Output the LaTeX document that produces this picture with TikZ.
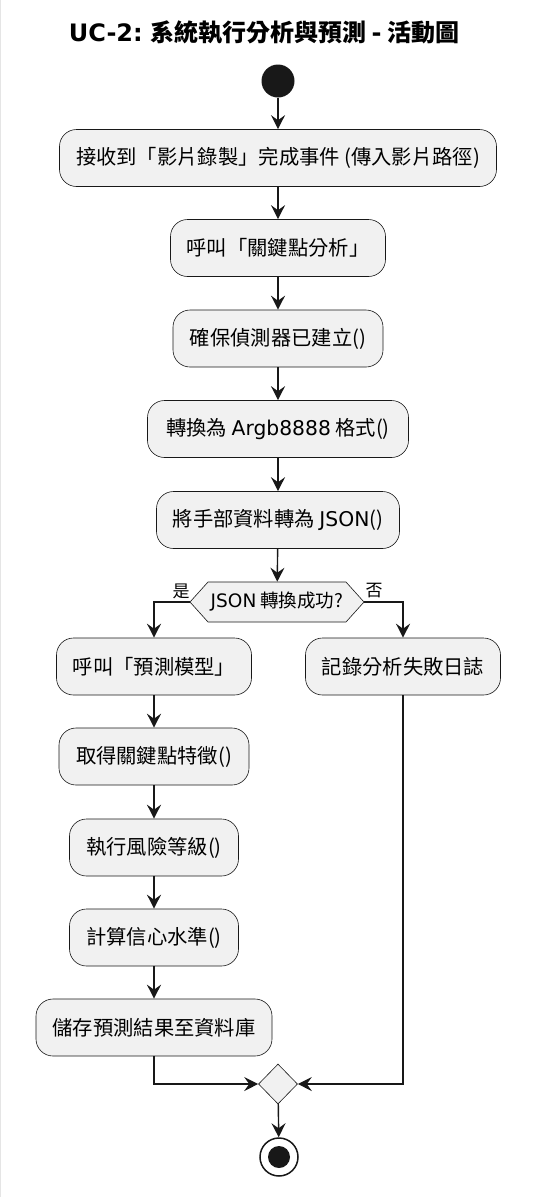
\documentclass[tikz,border=0pt]{standalone}
\usepackage{fontspec}
\setmainfont{Noto Sans CJK TC}
\newfontfamily\latin{DejaVu Sans}
\usetikzlibrary{arrows.meta,shapes.geometric,shapes.symbols}
\definecolor{actfill}{HTML}{F1F1F1}
\definecolor{actline}{HTML}{181818}

\begin{document}
\begin{tikzpicture}[x=1pt,y=-1pt,
		act/.style={draw=actline, fill=actfill, line width=0.6pt, rounded corners=17pt, minimum height=57pt, inner sep=0pt, font=\fontsize{20.3}{24}\selectfont},
		flow/.style={draw=actline, line width=1.4pt, -{Stealth[length=14pt,width=14pt,inset=5pt]}},
		lbl/.style={font=\fontsize{17}{20}\selectfont, inner sep=0pt}]
				%%%%% START %%%%%
				\def\mx{278}
				\def\lx{154}
				\def\rx{403}

				\useasboundingbox (0,0) rectangle (547,1197);
				\fill[white] (0,0) rectangle (547,1197);
				\draw[black!10, line width=1pt] (0.5,0) -- (0.5,1197);

				\node[font=\fontsize{24}{27}\selectfont\bfseries] (title) at (264,33) {{\latin UC-2:} 系統執行分析與預測 {\latin -} 活動圖};

				\node[circle, fill=actline, minimum size=33pt, inner sep=0pt] (start) at (\mx,81) {};

				\node[act, minimum width=437pt] (recv) at (\mx,158) {接收到「影片錄製」完成事件 (傳入影片路徑)};
				\node[act, minimum width=215pt] (callkp) at (\mx,248) {呼叫「關鍵點分析」};
				\node[act, minimum width=210pt] (ensure) at (\mx,338.5) {確保偵測器已建立()};
				\node[act, minimum width=261pt] (convert) at (\mx,429) {轉換為 {\latin Argb8888} 格式()};
				\node[act, minimum width=243pt] (tojson) at (\mx,520) {將手部資料轉為 {\latin JSON}()};

				\node[signal, signal to=west and east, signal pointer angle=96, draw=actline, fill=actfill, line width=0.6pt, minimum width=174pt, minimum height=40pt, inner sep=0pt, font=\fontsize{18.5}{22}\selectfont] (jsonok) at (277,602) {{\latin JSON} 轉換成功?};
				\node[lbl] (yes) at (181,591) {是};
				\node[lbl] (no) at (374,591) {否};

				\node[act, minimum width=195pt] (callpm) at (\lx,666.5) {呼叫「預測模型」};
				\node[act, minimum width=190pt] (getfeat) at (\lx,756.5) {取得關鍵點特徵()};
				\node[act, minimum width=169pt] (risk) at (\lx,847.5) {執行風險等級()};
				\node[act, minimum width=169pt] (conf) at (\lx,937.5) {計算信心水準()};
				\node[act, minimum width=236pt] (save) at (\lx,1027.5) {儲存預測結果至資料庫};

				\node[act, minimum width=195pt] (logfail) at (\rx,666.5) {記錄分析失敗日誌};

				\node[diamond, draw=actline, fill=actfill, line width=0.6pt, minimum width=39pt, minimum height=40pt, inner sep=0pt] (merge) at (278,1084) {};

				\node[circle, draw=actline, line width=1.5pt, fill=white, minimum size=38pt, inner sep=0pt] (stop) at (279,1157) {};
				\node[circle, fill=actline, minimum size=22pt, inner sep=0pt] (stopdot) at (stop) {};

				% main column
				\draw[flow] (start) -- (recv);
				\draw[flow] (recv) -- (callkp);
				\draw[flow] (callkp) -- (ensure);
				\draw[flow] (ensure) -- (convert);
				\draw[flow] (convert) -- (tojson);
				\draw[flow] (tojson) -- (jsonok);

				% branches
				\draw[flow] (jsonok.west) -| (callpm);
				\draw[flow] (jsonok.east) -| (logfail);
				\draw[flow] (callpm) -- (getfeat);
				\draw[flow] (getfeat) -- (risk);
				\draw[flow] (risk) -- (conf);
				\draw[flow] (conf) -- (save);

				% merge
				\draw[flow] (save.south) |- (merge.west);
				\draw[flow] (logfail.south) |- (merge.east);
				\draw[flow] (merge) -- (stop);
				%%%%% END %%%%%
\end{tikzpicture}
\end{document}
